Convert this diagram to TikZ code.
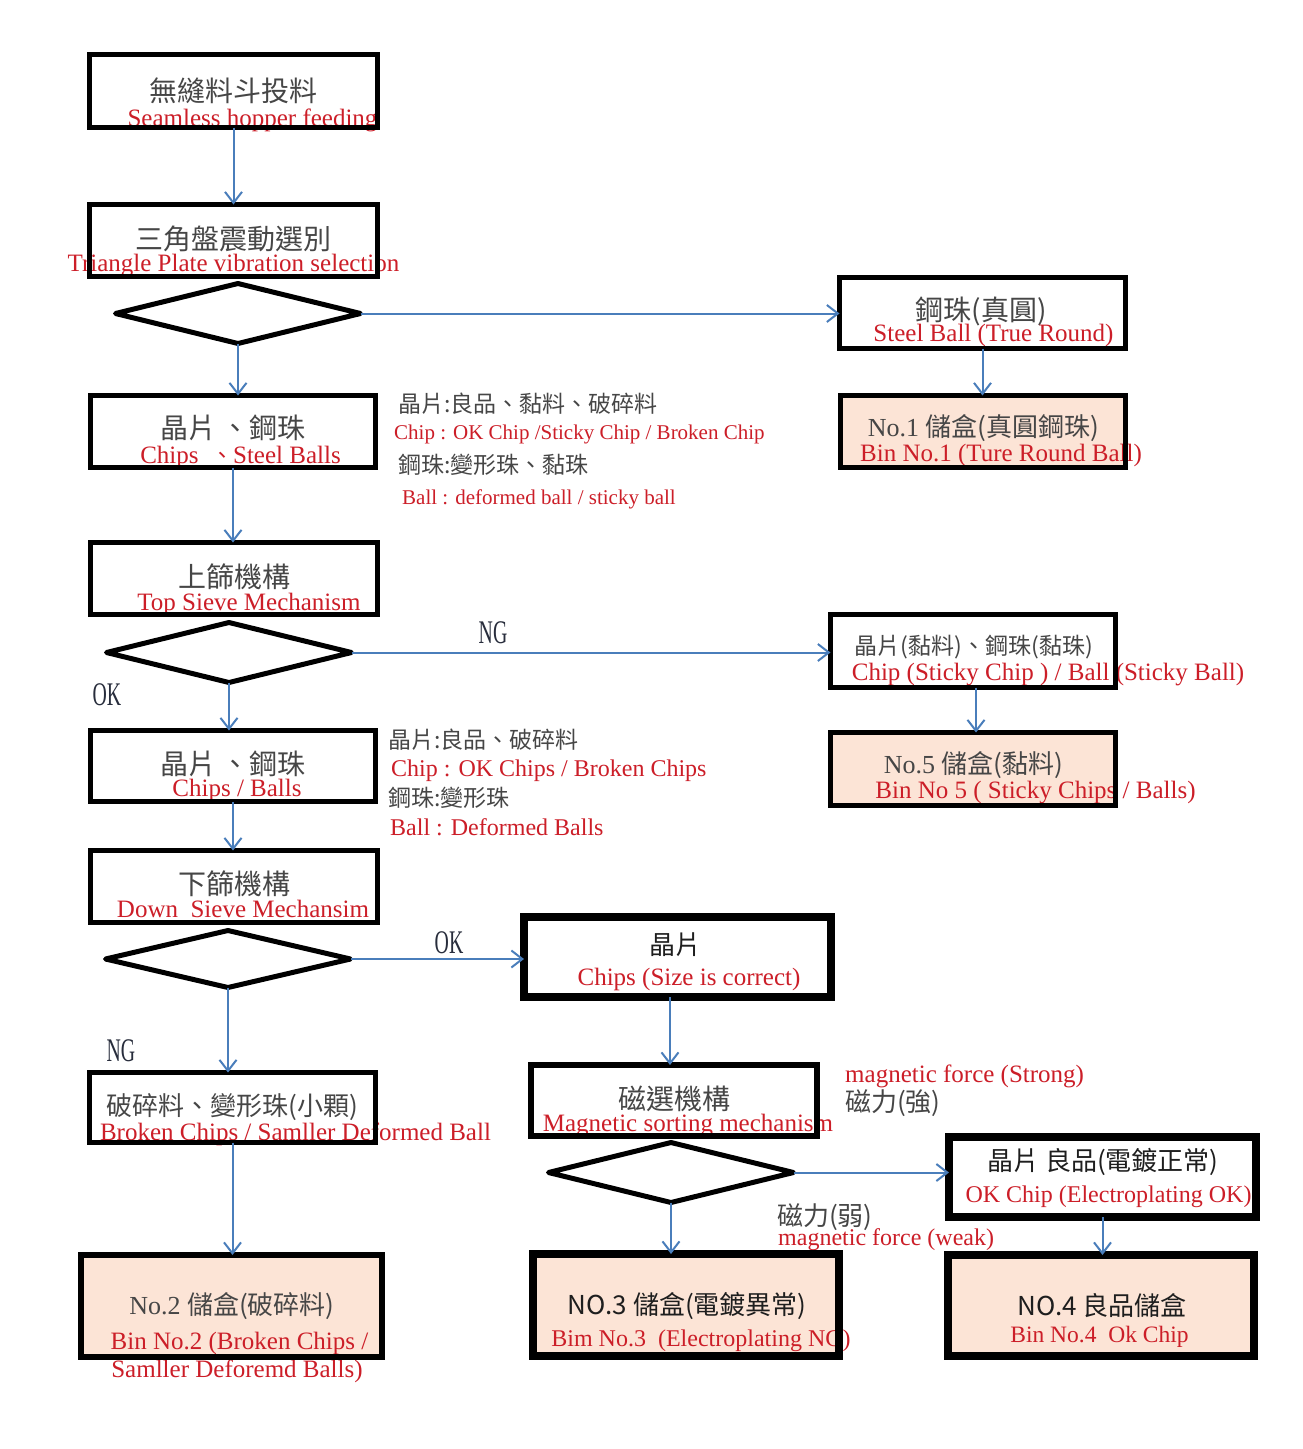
\documentclass[tikz,border=0pt]{standalone}
\usepackage{fontspec}
\setmainfont{Liberation Serif}
\newfontfamily\cjk{Noto Sans CJK TC}
\newfontfamily\condf[FakeStretch=0.6]{Liberation Serif}
\usetikzlibrary{arrows.meta,shapes.geometric}
\definecolor{redtxt}{RGB}{204,30,40}
\definecolor{graytxt}{RGB}{70,70,70}
\definecolor{darktxt}{RGB}{30,30,30}
\definecolor{labtxt}{RGB}{40,45,60}
\definecolor{arrowblue}{RGB}{74,126,187}
\definecolor{peach}{RGB}{252,228,214}
\begin{document}
\begin{tikzpicture}[x=1pt,y=-1pt,
 box/.style={rectangle,inner sep=0pt,outer sep=0pt,fill=white},
 bin/.style={box,fill=peach},
 dia/.style={diamond,draw=black,line width=5pt,line join=round,inner sep=0pt,outer sep=0pt,minimum width=245pt,minimum height=60pt},
 zh/.style={inner sep=0pt,font=\cjk\fontsize{28}{30}\selectfont,text=graytxt,text height=20pt,text depth=0pt},
 zhm/.style={zh,font=\cjk\fontsize{26}{28}\selectfont,text height=19pt},
 zhs/.style={zh,font=\cjk\fontsize{23}{26}\selectfont,text height=16.5pt},
 en/.style={inner sep=0pt,font=\fontsize{25}{28}\selectfont,text=redtxt,text height=16.5pt,text depth=0pt},
 ens/.style={en,font=\fontsize{21}{24}\selectfont,text height=14pt},
 lab/.style={inner sep=0pt,font=\condf\fontsize{33}{36}\selectfont,text=labtxt,text height=22pt,text depth=0pt},
 flow/.style={draw=arrowblue,line width=2pt,-{Straight Barb[length=11pt,width=17pt,line width=2pt]}},
]
\fill[white] (0,0) rectangle (1303,1449);
\useasboundingbox (0,0) rectangle (1303,1449);

% ---------- box fills ----------
\node[box,minimum width=288pt,minimum height=73pt] (b1) at (233.5,91) {};
\node[box,minimum width=288pt,minimum height=72pt] (b2) at (233.5,240.5) {};
\node[box,minimum width=286pt,minimum height=71pt] (b3) at (982.5,313) {};
\node[bin,minimum width=285pt,minimum height=72pt] (b4) at (983,431.5) {};
\node[box,minimum width=285pt,minimum height=72pt] (b5) at (233,431.5) {};
\node[box,minimum width=287pt,minimum height=72pt] (b6) at (234,578.5) {};
\node[box,minimum width=285pt,minimum height=73pt] (b7) at (973,651) {};
\node[bin,minimum width=285pt,minimum height=73pt] (b8) at (973,769) {};
\node[box,minimum width=285pt,minimum height=71pt] (b9) at (233,766) {};
\node[box,minimum width=287pt,minimum height=72pt] (b10) at (234,886.5) {};
\node[box,minimum width=307pt,minimum height=80pt] (b11) at (677.5,957) {};
\node[box,minimum width=286pt,minimum height=71pt] (b12) at (674,1100.5) {};
\node[box,minimum width=307pt,minimum height=80pt] (b13) at (1102.5,1177) {};
\node[bin,minimum width=306pt,minimum height=102pt] (b14) at (686,1305) {};
\node[bin,minimum width=306pt,minimum height=101pt] (b15) at (1101,1305.5) {};
\node[box,minimum width=286pt,minimum height=70pt] (b16) at (232.5,1107.5) {};
\node[bin,minimum width=301pt,minimum height=102pt] (b17) at (231.5,1306) {};

% ---------- diamonds ----------
\node[dia] (d1) at (238,313.5) {};
\node[dia] (d2) at (229,652.5) {};
\node[dia,minimum height=57pt] (d3) at (228,959) {};
\node[dia] (d4) at (671,1172.5) {};

% ---------- texts ----------
\node[zh] (t1c) at (233,91) {無縫料斗投料};
\node[en] (t1e) at (252.5,118) {Seamless hopper feeding};
\node[zh] (t2c) at (233,239) {三角盤震動選別};
\node[en] (t2e) at (233.5,263) {Triangle Plate vibration selection};
\node[zh] (t3c) at (981,310) {鋼珠(真圓)};
\node[en] (t3e) at (993.5,333) {Steel Ball (True Round)};
\node[zhm] (t4c) at (983.5,427) {\rmfamily No.1 \cjk 儲盒(真圓鋼珠)};
\node[en] (t4e) at (1001,453) {Bin No.1 (Ture Round Ball)};
\node[zh] (t5c) at (233,428) {晶片\,、鋼珠};
\node[en] (t5e) at (240.5,455) {Chips \ {\cjk\fontsize{22}{24}\selectfont 、}Steel Balls};
\node[zhs,anchor=west] (s1) at (398,404) {晶片:良品、黏料、破碎料};
\node[ens,anchor=west] (s2) at (394,432) {Chip : OK Chip /Sticky Chip / Broken Chip};
\node[zhs,anchor=west] (s3) at (398,465) {鋼珠:變形珠、黏珠};
\node[ens,anchor=west] (s4) at (402,497) {Ball : deformed ball / sticky ball};
\node[zh] (t6c) at (234,577) {上篩機構};
\node[en] (t6e) at (249,602) {Top Sieve Mechanism};
\node[lab] (ng1) at (493,632) {NG};
\node[lab] (ok1) at (107,694) {OK};
\node[zhs] (t7c) at (974,646) {晶片(黏料)、鋼珠(黏珠)};
\node[en] (t7e) at (1048,672) {Chip (Sticky Chip ) / Ball (Sticky Ball)};
\node[zhm] (t8c) at (973.5,764) {\rmfamily No.5 \cjk 儲盒(黏料)};
\node[en] (t8e) at (1035.5,790) {Bin No 5 ( Sticky Chips / Balls)};
\node[zh] (t9c) at (233,764) {晶片\,、鋼珠};
\node[en] (t9e) at (237,788) {Chips / Balls};
\node[zhs,anchor=west] (s5) at (388,740) {晶片:良品、破碎料};
\node[en,font=\fontsize{24}{26}\selectfont,anchor=west] (s6) at (391,768) {Chip : OK Chips / Broken Chips};
\node[zhs,anchor=west] (s7) at (388,798) {鋼珠:變形珠};
\node[en,font=\fontsize{24}{26}\selectfont,anchor=west] (s8) at (390,827) {Ball : Deformed Balls};
\node[zh] (t10c) at (234,884) {下篩機構};
\node[en] (t10e) at (243,909) {Down\hspace{0.5em}Sieve Mechansim};
\node[lab] (ok2) at (449,942) {OK};
\node[lab] (ng2) at (121,1050) {NG};
\node[zhm,text=darktxt] (t11c) at (675,945) {晶片};
\node[en] (t11e) at (689,977) {Chips (Size is correct)};
\node[zh] (t12c) at (674,1099) {磁選機構};
\node[en] (t12e) at (688,1123) {Magnetic sorting mechanism};
\node[en,anchor=west] (m1) at (845,1074) {magnetic force (Strong)};
\node[zhm,anchor=west] (m2) at (845,1102) {磁力(強)};
\node[zhm,text=darktxt] (t13c) at (1103,1161) {晶片 良品(電鍍正常)};
\node[en,font=\fontsize{24}{26}\selectfont] (t13e) at (1108.5,1194) {OK Chip (Electroplating OK)};
\node[zhm,anchor=west] (m3) at (777,1216) {磁力(弱)};
\node[en,font=\fontsize{24}{26}\selectfont,anchor=west] (m4) at (778,1237) {magnetic force (weak)};
\node[zhm,text=darktxt] (t14c) at (687,1305) {NO.3 儲盒(電鍍異常)};
\node[en,font=\fontsize{24}{26}\selectfont] (t14e) at (701,1338) {Bim No.3\hspace{0.5em}(Electroplating NG)};
\node[zhm,text=darktxt] (t15c) at (1102,1306) {NO.4 良品儲盒};
\node[en,font=\fontsize{23.5}{26}\selectfont] (t15e) at (1099.5,1334) {Bin No.4\hspace{0.5em}Ok Chip};
\node[zhm] (t16c) at (232,1106) {破碎料、變形珠(小顆)};
\node[en] (t16e) at (295.5,1132) {Broken Chips / Samller Deformed Ball};
\node[zhm] (t17c) at (232,1305) {\rmfamily No.2 \cjk 儲盒(破碎料)};
\node[en] (t17e1) at (239.5,1341) {Bin No.2 (Broken Chips /};
\node[en] (t17e2) at (237,1369) {Samller Deforemd Balls)};

% ---------- borders ----------
\foreach \n/\w in {b1/5,b2/5,b3/5,b4/5,b5/5,b6/5,b7/5,b8/5,b9/5,b10/5,b11/8,b12/6,b13/8,b14/8,b15/8,b16/5,b17/6}
  \draw[line width=\w pt] (\n.south west) rectangle (\n.north east);

% ---------- connectors ----------
\draw[flow] (b1.south) -- (b1.south |- b2.north);
\draw[flow] (d1.east) -- (d1.east -| b3.west);
\draw[flow] (d1.south) -- (d1.south |- b5.north);
\draw[flow] (b3.south) -- (b3.south |- b4.north);
\draw[flow] (b5.south) -- (b5.south |- b6.north);
\draw[flow] (d2.east) -- (d2.east -| b7.west);
\draw[flow] ([xshift=3pt]b7.south) -- ([xshift=3pt]b7.south |- b8.north);
\draw[flow] (d2.south) -- (d2.south |- b9.north);
\draw[flow] (b9.south) -- (b9.south |- b10.north);
\draw[flow] (d3.east) -- (d3.east -| b11.west);
\draw[flow] (d3.south) -- (d3.south |- b16.north);
\draw[flow] (b16.south) -- (b16.south |- b17.north);
\draw[flow] ([xshift=-4pt]b12.north |- b11.south) -- ([xshift=-4pt]b12.north);
\draw[flow] (d4.east) -- (d4.east -| b13.west);
\draw[flow] (d4.south) -- (d4.south |- b14.north);
\draw[flow] (b13.south) -- (b13.south |- b15.north);
\end{tikzpicture}
\end{document}
